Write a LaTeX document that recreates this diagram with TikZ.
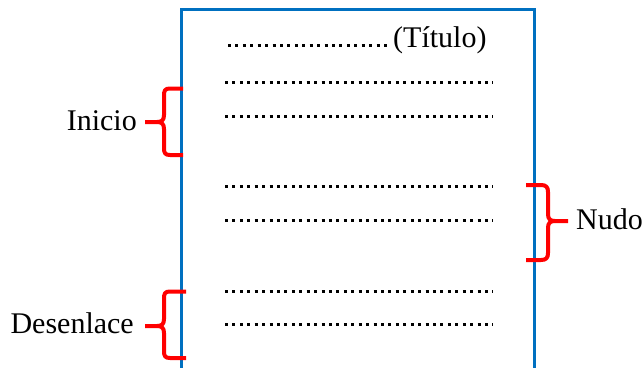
\documentclass[tikz,border=0pt]{standalone}
\usepackage{fontspec}
\setmainfont{Liberation Serif}
\definecolor{azul}{RGB}{0,112,192}

\tikzstyle{caja} = [draw = azul, line width = 3pt]
\tikzstyle{llave} = [draw = red, line width = 4pt, line join = round]
\tikzstyle{puntos} = [line width = 3pt, dash pattern = on 3pt off 4.43pt]
\tikzstyle{etiqueta} = [inner sep = 0pt, font = \fontsize{30}{36}\selectfont]

\begin{document}
\begin{tikzpicture}[x = 1pt, y = -1pt]
        \useasboundingbox (0, 0) rectangle (644, 367);
        % Hoja
        \draw[caja] (181, 370) -- (181, 9.5) -- (534, 9.5) -- (534, 370);

        % Lineas de puntos
        \draw[puntos] (228, 45.5) -- (389, 45.5);
        \foreach \y in {82, 116, 186, 220, 291, 324}
        {
          \draw[puntos] (225, \y) -- (493, \y);
        }
        \node[etiqueta, anchor = base west] (titulo) at (393, 47) {(Título)};

        % Inicio
        \draw[llave] (183, 88.5) -- (170, 88.5) .. controls (165, 88.5) and (164, 90.5) .. (164, 95.5)
          -- (164, 115) .. controls (164, 120) and (162, 122) .. (157, 122) -- (145, 122);
        \draw[llave] (157, 122) .. controls (162, 122) and (164, 124) .. (164, 129)
          -- (164, 148) .. controls (164, 153) and (165, 155) .. (170, 155) -- (183, 155);
        \node[etiqueta, anchor = base east] (inicio) at (137, 130) {Inicio};

        % Nudo
        \draw[llave] (526, 185) -- (541, 185) .. controls (546, 185) and (548, 187) .. (548, 192)
          -- (548, 214) .. controls (548, 219) and (550, 221) .. (555, 221) -- (568, 221);
        \draw[llave] (555, 221) .. controls (550, 221) and (548, 223) .. (548, 228)
          -- (548, 253) .. controls (548, 258) and (546, 260) .. (541, 260) -- (526, 260);
        \node[etiqueta, anchor = base west] (nudo) at (576, 229) {Nudo};

        % Desenlace
        \draw[llave] (186, 291.5) -- (170, 291.5) .. controls (165, 291.5) and (164, 293.5) .. (164, 298.5)
          -- (164, 319) .. controls (164, 324) and (162, 326) .. (157, 326) -- (145, 326);
        \draw[llave] (157, 326) .. controls (162, 326) and (164, 328) .. (164, 333)
          -- (164, 351) .. controls (164, 356) and (165, 358) .. (170, 358) -- (186, 358);
        \node[etiqueta, anchor = base east] (desenlace) at (134, 333) {Desenlace};
\end{tikzpicture}
\end{document}
